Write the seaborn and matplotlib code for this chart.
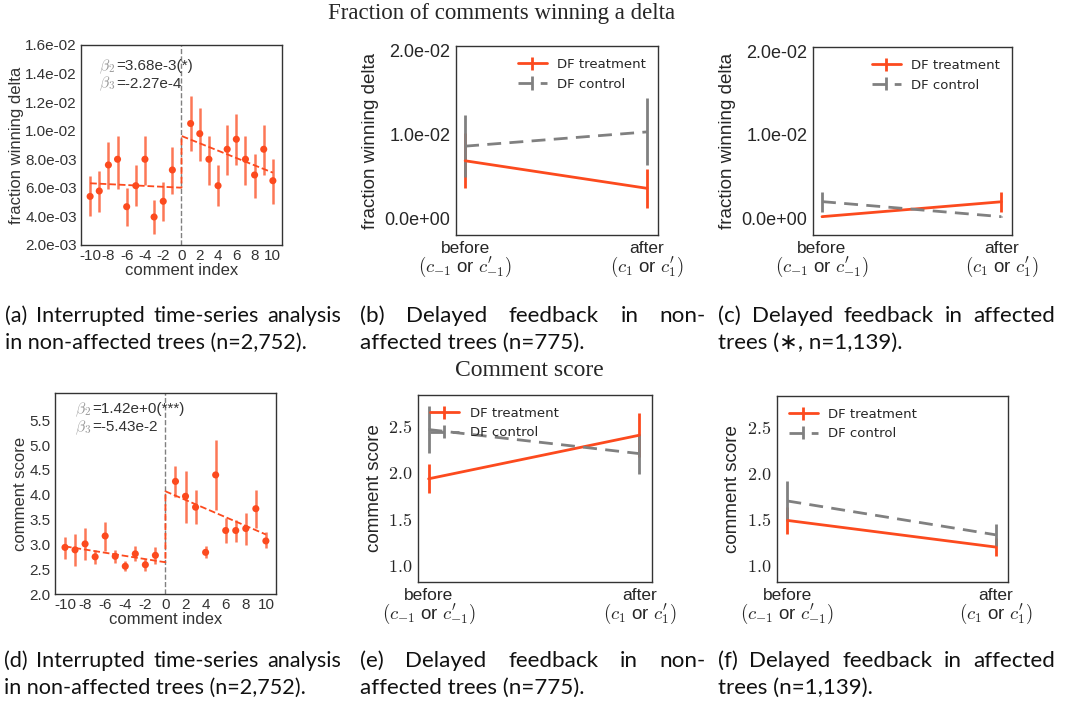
import numpy as np
import pandas as pd
import matplotlib
matplotlib.use('Agg')
import matplotlib.pyplot as plt
import matplotlib.transforms as mtransforms
import seaborn as sns

sns.set_style('white')
plt.rcParams['font.family'] = ['DejaVu Sans']
plt.rcParams['mathtext.fontset'] = 'cm'

RED = '#fc4a1e'
GRAY = '#808080'

# comment index (no point at 0)
idx = list(range(-10, 0)) + list(range(1, 11))

# fraction winning delta, per comment index
delta_mean = [0.0054, 0.00578, 0.0076, 0.0080, 0.00468, 0.00615, 0.0080, 0.00396, 0.00506, 0.00725,
              0.0105, 0.00979, 0.0080, 0.00615, 0.0087, 0.0094, 0.0080, 0.0069, 0.0087, 0.0065]
delta_lo = [0.0040, 0.0043, 0.0059, 0.0059, 0.00335, 0.0047, 0.0062, 0.00277, 0.0037, 0.0056,
            0.00856, 0.0079, 0.0062, 0.0047, 0.0069, 0.0076, 0.0062, 0.0053, 0.0069, 0.0049]
delta_hi = [0.0068, 0.0072, 0.0092, 0.0096, 0.0060, 0.0076, 0.0096, 0.00515, 0.00639, 0.00884,
            0.0124, 0.0116, 0.0096, 0.0076, 0.0104, 0.0112, 0.0096, 0.0084, 0.0104, 0.0080]
delta_fit = [0.00632, 0.00601, 0.00963, 0.00706]

# comment score, per comment index
score_mean = [2.94, 2.89, 3.01, 2.75, 3.17, 2.76, 2.56, 2.81, 2.59, 2.78,
              4.27, 3.97, 3.75, 2.84, 4.40, 3.28, 3.28, 3.32, 3.72, 3.07]
score_lo = [2.71, 2.56, 2.69, 2.61, 2.87, 2.62, 2.46, 2.66, 2.47, 2.61,
            3.95, 3.44, 3.41, 2.73, 3.70, 3.03, 3.05, 2.99, 3.33, 2.93]
score_hi = [3.14, 3.20, 3.33, 2.88, 3.45, 2.88, 2.67, 2.96, 2.71, 2.95,
            4.59, 4.48, 4.09, 2.96, 5.11, 3.54, 3.50, 3.63, 4.10, 3.26]
score_fit = [2.96, 2.64, 4.07, 3.20]

fit_x = [-10, 0, 0, 10]

# delayed feedback: before / after
phase = [0, 1]
b_treat, b_treat_err = [0.00684, 0.00356], [0.0033, 0.0023]
b_ctrl, b_ctrl_err = [0.00858, 0.01028], [0.0037, 0.0040]
c_treat, c_treat_err = [0.0002, 0.00198], [0.0001, 0.0012]
c_ctrl, c_ctrl_err = [0.0020, 0.0002], [0.0012, 0.0001]
e_treat, e_treat_err = [1.935, 2.406], [0.155, 0.24]
e_ctrl, e_ctrl_err = [2.467, 2.207], [0.25, 0.215]
f_treat, f_treat_err = [1.489, 1.20], [0.145, 0.10]
f_ctrl, f_ctrl_err = [1.70, 1.333], [0.22, 0.12]

fig = plt.figure(figsize=(10.67, 7.02), dpi=100)
W, H = 1067, 702
beta_pairs = []


def its_panel(rect, mean, lo, hi, fit, ylabel, ylim, yticks, fmt, b2, b3, ty):
    ax = fig.add_axes(rect)
    df = pd.DataFrame({'idx': idx, 'val': mean})
    ax.vlines(idx, lo, hi, color=RED, alpha=0.75, lw=1.8, zorder=2)
    sns.scatterplot(data=df, x='idx', y='val', color=RED, s=26, edgecolor='none', ax=ax, zorder=3)
    sns.lineplot(x=fit_x, y=fit, estimator=None, sort=False, color=RED, lw=1.3,
                 linestyle='--', ax=ax, zorder=2)
    ax.axvline(0, color=GRAY, ls='--', lw=1, zorder=1)
    ax.set_xlim(-11, 11)
    ax.set_ylim(*ylim)
    ax.set_xticks(range(-10, 11, 2))
    ax.set_xticklabels([str(v) for v in range(-10, 11, 2)])
    ax.set_yticks(yticks)
    ax.set_yticklabels([fmt % v for v in yticks])
    for lab in ax.get_xticklabels() + ax.get_yticklabels():
        lab.set_family('Liberation Sans')
        lab.set_fontsize(11)
        lab.set_color('#333333')
    ax.tick_params(length=0, pad=3)
    ax.set_xlabel('comment index', family='Liberation Sans', fontsize=12, color='#333333', labelpad=0)
    ax.set_ylabel(ylabel, family='Liberation Sans', fontsize=12, color='#333333', labelpad=1)
    for s in ax.spines.values():
        s.set_color('#333333')
        s.set_linewidth(1)
    for i, (name, val) in enumerate([(r'$\beta_2$ ', b2), (r'$\beta_3$ ', b3)]):
        t1 = ax.text(0.09, ty - i * 0.088, name, transform=ax.transAxes, color='#999999',
                     fontsize=11.5, va='baseline')
        t2 = ax.text(0.09, ty - i * 0.088, '=' + val, transform=ax.transAxes, color='#333333',
                     fontsize=11, va='baseline', family='Liberation Sans')
        beta_pairs.append((ax, t1, t2))
    return ax


def dd_panel(rect, treat, terr, ctrl, cerr, ylabel, ylim, yticks, ylabels, loc):
    ax = fig.add_axes(rect)
    ax.errorbar(phase, treat, yerr=terr, color=RED, lw=2, label='DF treatment')
    ax.errorbar(phase, ctrl, yerr=cerr, color=GRAY, lw=2, ls='--', dashes=(5, 3), label='DF control')
    ax.set_xlim(-0.05, 1.06)
    ax.set_ylim(*ylim)
    ax.set_yticks(yticks)
    ax.set_yticklabels(ylabels, fontsize=13, family='Liberation Sans')
    ax.set_xticks(phase)
    ax.set_xticklabels(['before', 'after'], fontsize=12.5, family='Liberation Sans')
    ax.tick_params(length=0, pad=4)
    below = mtransforms.offset_copy(ax.get_xaxis_transform(), fig=fig, y=-14, units='points')
    ax.text(0, 0, r"$(c_{-1}$ or $c^{\prime}_{-1})$", transform=below, ha='center', va='top',
            fontsize=13.5, family='Liberation Sans')
    ax.text(1, 0, r"$(c_1$ or $c^{\prime}_1)$", transform=below, ha='center', va='top',
            fontsize=13.5, family='Liberation Sans')
    ax.set_ylabel(ylabel, fontsize=13.5, labelpad=4, family='Liberation Sans')
    for s in ax.spines.values():
        s.set_color('#333333')
        s.set_linewidth(1)
    ax.legend(loc=loc, frameon=False, fontsize=9.5, handlelength=2.2)
    return ax


# panel positions (figure fractions)
its_panel([0.0759, 0.651, 0.1884, 0.285], delta_mean, delta_lo, delta_hi, delta_fit,
          'fraction winning delta', (0.002, 0.016), np.arange(0.002, 0.0161, 0.002), '%.1e',
          '3.68e-3(*)', '-2.27e-4', 0.875)
its_panel([0.0515, 0.1538, 0.2071, 0.2863], score_mean, score_lo, score_hi, score_fit,
          'comment score', (2.0, 6.05), np.arange(2.0, 5.51, 0.5), '%.1f',
          '1.42e+0(***)', '-5.43e-2', 0.9)

dtick = [0, 0.01, 0.02]
dlab = ['0.0e+00', '1.0e-02', '2.0e-02']
stick = [1.0, 1.5, 2.0, 2.5]
slab = ['$1.0$', '$1.5$', '$2.0$', '$2.5$']
dd_panel([0.4274, 0.6652, 0.1893, 0.2692], b_treat, b_treat_err, b_ctrl, b_ctrl_err,
         'fraction winning delta', (-0.002, 0.0205), dtick, dlab, 'upper right')
dd_panel([0.7620, 0.6652, 0.1865, 0.2678], c_treat, c_treat_err, c_ctrl, c_ctrl_err,
         'fraction winning delta', (-0.002, 0.0205), dtick, dlab, 'upper right')
dd_panel([0.3918, 0.1709, 0.2193, 0.2664], e_treat, e_treat_err, e_ctrl, e_ctrl_err,
         'comment score', (0.82, 2.84), stick, slab, 'upper left')
dd_panel([0.7282, 0.1709, 0.2165, 0.2650], f_treat, f_treat_err, f_ctrl, f_ctrl_err,
         'comment score', (0.82, 2.84), stick, slab, 'upper left')

# section titles
fig.text(502 / W, 1 - 13 / H, 'Fraction of comments winning a delta', ha='center', va='center',
         family='Liberation Serif', fontsize=16.5)
fig.text(529 / W, 1 - 370 / H, 'Comment score', ha='center', va='center',
         family='Liberation Serif', fontsize=17)

# captions
CAP = dict(family=['Lato', 'DejaVu Sans'], va='baseline', color='#111111')
fig.canvas.draw()
r = fig.canvas.get_renderer()

# place the value right after the grey beta symbol
for ax, t1, t2 in beta_pairs:
    w = t1.get_window_extent(r).width
    t2.set_transform(ax.transAxes + mtransforms.Affine2D().translate(w, 0))


def text_width(s, size):
    t = fig.text(0, 0, s, fontsize=size, **CAP)
    w = t.get_window_extent(r).width
    t.remove()
    return w


base = 13 * 337 / text_width('(a) Interrupted time-series analysis', 13)


def justified(words, x0, x1, y, size):
    texts = [fig.text(x0 / W, 1 - y / H, w, fontsize=size, **CAP) for w in words]
    widths = [t.get_window_extent(r).width for t in texts]
    gap = (x1 - x0 - sum(widths)) / (len(words) - 1)
    x = x0
    for t, w in zip(texts, widths):
        t.set_x(x / W)
        x += w + gap


captions = [
    (5, 341, 322, '(a) Interrupted time-series analysis', 'in non-affected trees (n=2,752).'),
    (360, 706, 322, '(b) Delayed feedback in non-', 'affected trees (n=775).'),
    (718, 1055, 322, '(c) Delayed feedback in affected', 'trees (∗, n=1,139).'),
    (4, 341, 667, '(d) Interrupted time-series analysis', 'in non-affected trees (n=2,752).'),
    (360, 706, 667, '(e) Delayed feedback in non-', 'affected trees (n=775).'),
    (718, 1055, 667, '(f) Delayed feedback in affected', 'trees (n=1,139).'),
]
for x0, x1, y, line1, line2 in captions:
    size = min(base, 13 * (x1 - x0) / text_width(line1, 13) * 0.97)
    justified(line1.split(' '), x0, x1, y, size)
    fig.text(x0 / W, 1 - (y + 27) / H, line2, fontsize=size, **CAP)

fig.savefig('out.png', dpi=100)
